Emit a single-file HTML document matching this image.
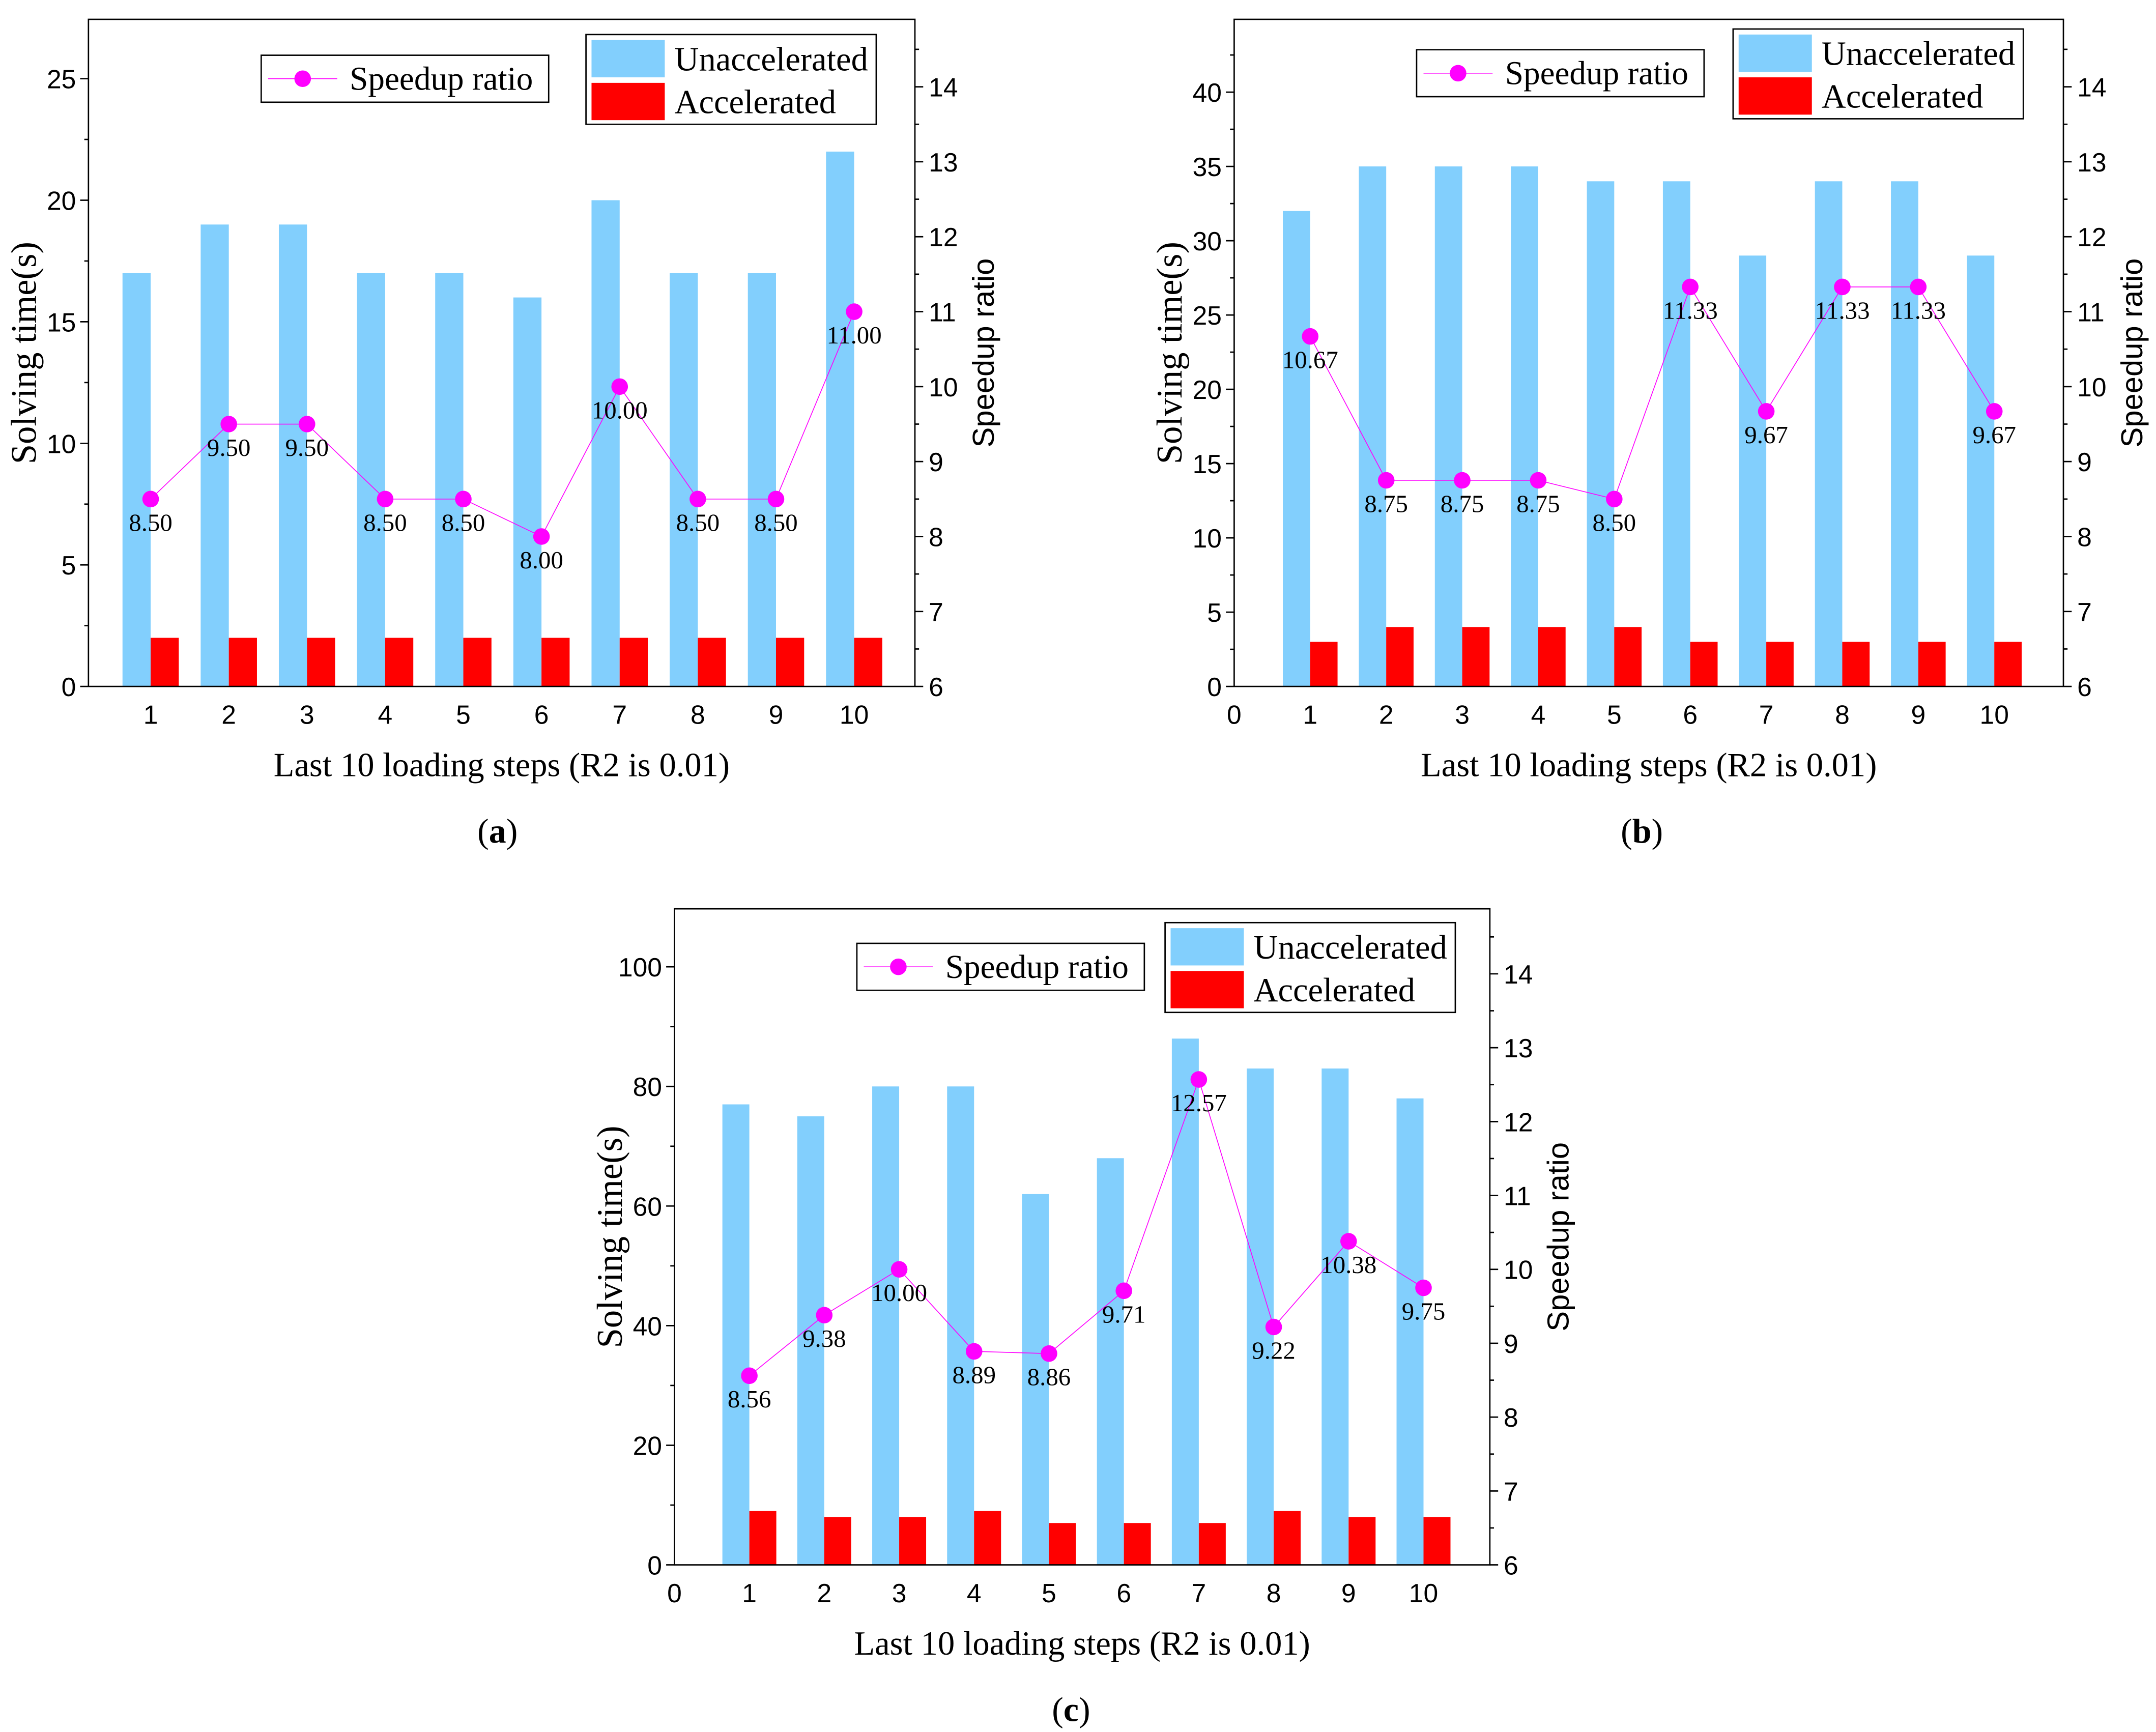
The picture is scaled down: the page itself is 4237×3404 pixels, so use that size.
<!DOCTYPE html>
<html><head><meta charset="utf-8"><style>html,body{margin:0;padding:0;background:#fff}svg{display:block}</style></head>
<body>
<svg id="chart" width="4237" height="3404" viewBox="0 0 1560 1254" preserveAspectRatio="none" xmlns="http://www.w3.org/2000/svg"></svg>
<script>
const steps = [1,2,3,4,5,6,7,8,9,10];
const unaccA = [17,19,19,17,17,16,20,17,17,22];
const accA = [2,2,2,2,2,2,2,2,2,2];
const ratioA = [8.5,9.5,9.5,8.5,8.5,8.0,10.0,8.5,8.5,11.0];
const unaccB = [32,35,35,35,34,34,29,34,34,29];
const accB = [3,4,4,4,4,3,3,3,3,3];
const ratioB = [10.67,8.75,8.75,8.75,8.5,11.33,9.67,11.33,11.33,9.67];
const unaccC = [77,75,80,80,62,68,88,83,83,78];
const accC = [9,8,8,9,7,7,7,9,8,8];
const ratioC = [8.56,9.38,10.0,8.89,8.86,9.71,12.57,9.22,10.38,9.75];
const leftTicksA = [0,5,10,15,20,25];
const leftTicksB = [0,5,10,15,20,25,30,35,40];
const leftTicksC = [0,20,40,60,80,100];
const rightTicks = [6,7,8,9,10,11,12,13,14];

const NS='http://www.w3.org/2000/svg';
const svg=document.getElementById('chart');
function mk(tag,attrs,parent,text){const e=document.createElementNS(NS,tag);for(const k in attrs)e.setAttribute(k,attrs[k]);if(text!==undefined)e.textContent=text;(parent||svg).appendChild(e);return e;}
const SANS='"Liberation Sans", sans-serif', SERIF='"Liberation Serif", serif';

function panel(p){
  const g=mk('g',{});
  
  
  const ly=v=>p.B-(v-p.lmin)/(p.lmax-p.lmin)*(p.B-p.T);
  const ry=v=>p.B-(v-6)/(p.rmax-6)*(p.B-p.T);
  const xs=i=>p.x0+p.dx*i;
  const bw=p.dx*0.36;
  steps.forEach((s,i)=>{
    const x=xs(s);
    const b1=mk('rect',{x:x-bw,y:ly(p.un[i]),width:bw,height:p.B-ly(p.un[i]),fill:'#82CFFD'},g);
    
    
    const b2=mk('rect',{x:x,y:ly(p.ac[i]),width:bw,height:p.B-ly(p.ac[i]),fill:'#FF0000'},g);
    
    
  });
  const fr=mk('rect',{x:p.L,y:p.T,width:p.R-p.L,height:p.B-p.T,fill:'none',stroke:'#000','stroke-width':1},g);
  
  
  const pts=steps.map((s,i)=>xs(s)+','+ry(p.ra[i])).join(' ');
  const ln=mk('polyline',{points:pts,fill:'none',stroke:'#FF00FF','stroke-width':0.6},g);
  
  
  steps.forEach((s,i)=>{
    const c=mk('circle',{cx:xs(s),cy:ry(p.ra[i]),r:6,fill:'#FF00FF'},g);
    
    
    const t=mk('text',{x:xs(s),y:ry(p.ra[i])+23,'text-anchor':'middle','font-family':SERIF,'font-size':18},g,p.ra[i].toFixed(2));
    
    
  });
  p.lt.forEach(v=>{
    mk('line',{x1:p.L-6,x2:p.L,y1:ly(v),y2:ly(v),stroke:'#000'},g);
    const t=mk('text',{x:p.L-9,y:ly(v)+7,'text-anchor':'end','font-family':SANS,'font-size':19},g,v);
    
    
    const m=v+p.lstep/2; if(ly(m)>p.T) mk('line',{x1:p.L-3,x2:p.L,y1:ly(m),y2:ly(m),stroke:'#000'},g);
  });
  rightTicks.forEach(v=>{
    mk('line',{x1:p.R,x2:p.R+6,y1:ry(v),y2:ry(v),stroke:'#000'},g);
    const t=mk('text',{x:p.R+10,y:ry(v)+7,'font-family':SANS,'font-size':19},g,v);
    
    
    if(ry(v+0.5)>p.T) mk('line',{x1:p.R,x2:p.R+3,y1:ry(v+0.5),y2:ry(v+0.5),stroke:'#000'},g);
  });
  const xl=p.zero?[0].concat(steps):steps;
  xl.forEach(s=>{
    const t=mk('text',{x:xs(s),y:p.B+27,'text-anchor':'middle','font-family':SANS,'font-size':19},g,s);
    
    
  });
  const cy=(p.T+p.B)/2;
  const t1=mk('text',{x:0,y:0,transform:`translate(${p.L-38},${cy}) rotate(-90)`,'text-anchor':'middle','font-family':SERIF,'font-size':26},g,'Solving time(s)');
  
  
  const t2=mk('text',{x:0,y:0,transform:`translate(${p.R+57},${cy}) rotate(-90)`,'text-anchor':'middle','font-family':SANS,'font-size':22},g,'Speedup ratio');
  
  
  const t3=mk('text',{x:p.xtx,y:p.B+65,'text-anchor':'middle','font-family':SERIF,'font-size':24.5},g,'Last 10 loading steps (R2 is 0.01)');
  
  
  const t4=mk('text',{x:p.cap,y:p.B+113,'text-anchor':'middle','font-family':SERIF,'font-size':25},g,'(');
  
  
  mk('tspan',{'font-weight':'bold'},t4,p.id);
  mk('tspan',{},t4,')');
  const [sx,sy]=p.sl;
  const lg=mk('g',{},g);
  
  
  mk('rect',{x:sx,y:sy,width:208,height:34,fill:'#fff',stroke:'#000'},lg);
  mk('line',{x1:sx+5,x2:sx+55,y1:sy+17,y2:sy+17,stroke:'#FF00FF','stroke-width':0.6},lg);
  mk('circle',{cx:sx+30,cy:sy+17,r:6,fill:'#FF00FF'},lg);
  mk('text',{x:sx+64,y:sy+25,'font-family':SERIF,'font-size':24},lg,'Speedup ratio');
  const [bx,by]=p.bl;
  const lb=mk('g',{},g);
  
  
  mk('rect',{x:bx,y:by,width:210,height:65,fill:'#fff',stroke:'#000'},lb);
  mk('rect',{x:bx+4,y:by+4,width:53,height:27,fill:'#82CFFD'},lb);
  mk('rect',{x:bx+4,y:by+35,width:53,height:27,fill:'#FF0000'},lb);
  mk('text',{x:bx+64,y:by+26,'font-family':SERIF,'font-size':24.5},lb,'Unaccelerated');
  mk('text',{x:bx+64,y:by+57,'font-family':SERIF,'font-size':24.5},lb,'Accelerated');
}

panel({id:'a',L:64,R:662,T:14,B:497,x0:109-56.56,dx:56.56,lmin:0,lmax:27.44,lstep:5,rmax:14.9,lt:leftTicksA,un:unaccA,ac:accA,ra:ratioA,zero:false,xtx:363,cap:360,sl:[189,40],bl:[424,25]});
panel({id:'b',L:893,R:1493,T:14,B:497,x0:893,dx:55,lmin:0,lmax:44.9,lstep:5,rmax:14.9,lt:leftTicksB,un:unaccB,ac:accB,ra:ratioB,zero:true,xtx:1193,cap:1188,sl:[1025,36],bl:[1254,21]});
panel({id:'c',L:488,R:1078,T:658,B:1133,x0:488,dx:54.2,lmin:0,lmax:109.7,lstep:20,rmax:14.88,lt:leftTicksC,un:unaccC,ac:accC,ra:ratioC,zero:true,xtx:783,cap:775,sl:[620,683],bl:[843,668]});
</script>
</body></html>
